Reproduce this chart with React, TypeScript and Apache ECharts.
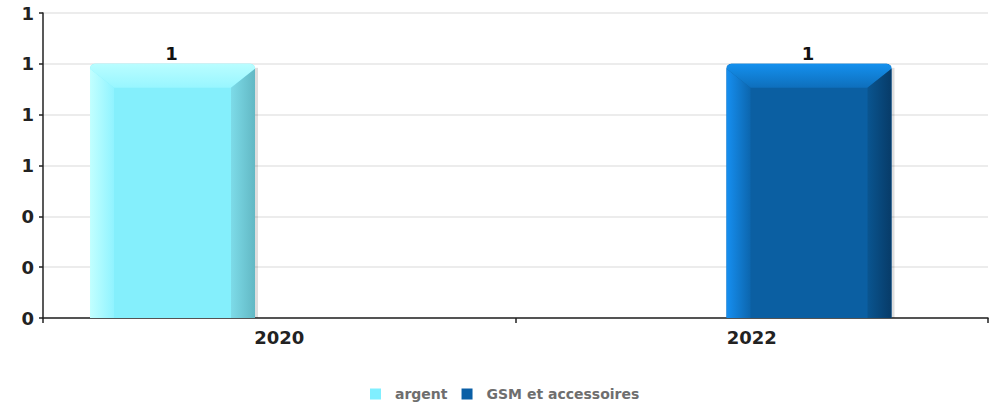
import React, { useEffect, useRef } from "react";
import * as echarts from "echarts";

const categories = ["2020", "2022"];
const seriesNames = ["argent", "GSM et accessoires"];
const argentValues: [number, number][] = [[0, 1]];
const gsmValues: [number, number][] = [[1, 1]];
const yTicks = { min: 0, max: 1.2, interval: 0.2 };

const palettes = [
  {
    face: "#84effc",
    legend: "#80efff",
    topA: "#b9fdff",
    topB: "#98f6ff",
    leftA: "#c2ffff",
    leftB: "#90f3ff",
    rightA: "#7ddbe8",
    rightB: "#62b8c4",
  },
  {
    face: "#0b5fa2",
    legend: "#0a5fa6",
    topA: "#1490ee",
    topB: "#0e6fbc",
    leftA: "#168ff0",
    leftB: "#0c66ae",
    rightA: "#0a5590",
    rightB: "#073b68",
  },
];

const FONT = "DejaVu Sans";

function makeRenderItem(sIdx: number) {
  const pal = palettes[sIdx];
  return (params: any, api: any) => {
    const cat = api.value(0);
    const val = api.value(1);
    const base = api.coord([cat, 0]);
    const top = api.coord([cat, val]);
    const band = api.size([1, 0])[0];
    const w = band * (165 / 472.5);
    const x = base[0] - band / 2 + band * (47 / 472.5) + sIdx * band * (164 / 472.5);
    const y = top[1];
    const y0 = base[1];
    const b = 24;
    const r = 5;
    const lin = (x1: number, y1: number, x2: number, y2: number, a: string, c: string) =>
      new echarts.graphic.LinearGradient(x1, y1, x2, y2, [
        { offset: 0, color: a },
        { offset: 1, color: c },
      ]);
    return {
      type: "group",
      children: [
        {
          type: "rect",
          shape: { x: x + w, y: y + 4, width: 3, height: y0 - y - 4 },
          style: { fill: "rgba(0,0,0,0.13)" },
        },
        {
          type: "rect",
          shape: { x, y, width: w, height: y0 - y, r: [r, r, 0, 0] },
          style: { fill: pal.face },
        },
        {
          type: "polygon",
          shape: {
            points: [
              [x, y + r],
              [x + 0.6, y + 2.5],
              [x + 1.5, y + 1.5],
              [x + 2.5, y + 0.6],
              [x + r, y],
              [x + w - r, y],
              [x + w - 2.5, y + 0.6],
              [x + w - 1.5, y + 1.5],
              [x + w - 0.6, y + 2.5],
              [x + w, y + r],
              [x + w - b, y + b],
              [x + b, y + b],
            ],
          },
          style: { fill: lin(0, 0, 0, 1, pal.topA, pal.topB) },
        },
        {
          type: "polygon",
          shape: {
            points: [
              [x, y + r],
              [x + b, y + b],
              [x + b, y0],
              [x, y0],
            ],
          },
          style: { fill: lin(0, 0, 1, 0, pal.leftA, pal.leftB) },
        },
        {
          type: "polygon",
          shape: {
            points: [
              [x + w, y + r],
              [x + w - b, y + b],
              [x + w - b, y0],
              [x + w, y0],
            ],
          },
          style: { fill: lin(0, 0, 1, 0, pal.rightA, pal.rightB) },
        },
        {
          type: "text",
          style: {
            text: String(val),
            x: x + w / 2 - 1,
            y: y - 1,
            align: "center",
            verticalAlign: "bottom",
            textAlign: "center",
            textVerticalAlign: "bottom",
            font: `bold 18px "${FONT}"`,
            fill: "#111111",
          },
        },
      ],
    };
  };
}

export default function App() {
  const ref = useRef<HTMLDivElement>(null);
  useEffect(() => {
    document.body.style.margin = "0";
    if (!ref.current) return;
    const chart = echarts.init(ref.current, undefined, { renderer: "svg" });
    const dataSets = [argentValues, gsmValues];
    chart.setOption({
      animation: false,
      backgroundColor: "#ffffff",
      grid: { left: 43, right: 10, top: 13, bottom: 86, containLabel: false },
      legend: {
        data: seriesNames.map((n, i) => ({ name: n, itemStyle: { color: palettes[i].legend } })),
        left: 365,
        top: 382,
        icon: "rect",
        itemWidth: 11,
        itemHeight: 11,
        itemGap: 14,
        textStyle: {
          fontFamily: FONT,
          fontWeight: "bold",
          fontSize: 14,
          color: "#6e6e6e",
          padding: [0, 0, 0, 9],
        },
      },
      xAxis: {
        type: "category",
        data: categories,
        boundaryGap: true,
        axisLine: { show: true, lineStyle: { color: "#222222", width: 1.5 } },
        axisTick: { show: true, length: 5, lineStyle: { color: "#222222", width: 1.5 } },
        axisLabel: {
          margin: 10,
          fontFamily: FONT,
          fontWeight: "bold",
          fontSize: 18,
          color: "#222222",
        },
        splitLine: { show: false },
      },
      yAxis: {
        type: "value",
        min: yTicks.min,
        max: yTicks.max,
        interval: yTicks.interval,
        axisLine: { show: true, lineStyle: { color: "#222222", width: 1.5 } },
        axisTick: { show: true, length: 4, lineStyle: { color: "#222222", width: 1.5 } },
        axisLabel: {
          margin: 9,
          fontFamily: FONT,
          fontWeight: "bold",
          fontSize: 18,
          color: "#222222",
          formatter: (v: number) => String(Math.round(v)),
        },
        splitLine: { show: true, lineStyle: { color: "#e6e6e6", width: 1.5 } },
      },
      series: seriesNames.map((name, i) => ({
        type: "custom",
        name,
        itemStyle: { color: palettes[i].legend },
        renderItem: makeRenderItem(i),
        encode: { x: 0, y: 1 },
        data: dataSets[i],
        clip: false,
      })),
    });
    return () => chart.dispose();
  }, []);
  return <div ref={ref} style={{ width: 998, height: 404 }} />;
}
